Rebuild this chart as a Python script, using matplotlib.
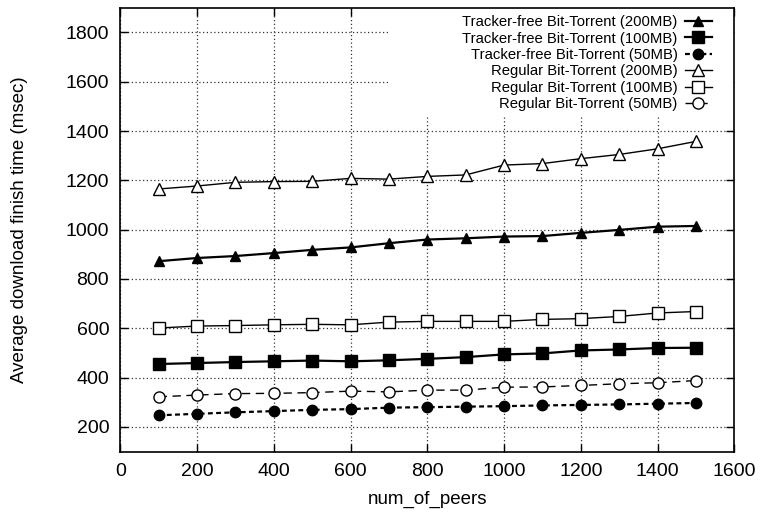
import matplotlib
matplotlib.use("Agg")
import matplotlib.pyplot as plt
from matplotlib.patches import Rectangle

peers = [100, 200, 300, 400, 500, 600, 700, 800, 900, 1000, 1100, 1200, 1300, 1400, 1500]

tf_200 = [872, 885, 893, 905, 918, 928, 945, 960, 965, 972, 974, 987, 999, 1012, 1015]
tf_100 = [455, 459, 463, 466, 469, 466, 470, 476, 483, 494, 498, 510, 514, 520, 521]
tf_50 = [247, 253, 259, 264, 269, 272, 278, 280, 282, 284, 287, 289, 291, 294, 297]
reg_200 = [1165, 1177, 1192, 1195, 1196, 1208, 1205, 1216, 1222, 1262, 1268, 1288, 1305, 1328, 1358]
reg_100 = [601, 609, 611, 614, 616, 614, 625, 628, 628, 628, 636, 639, 648, 662, 668]
reg_50 = [322, 329, 335, 336, 339, 345, 342, 349, 349, 361, 362, 368, 375, 379, 388]

labels = ["Tracker-free Bit-Torrent (200MB)", "Tracker-free Bit-Torrent (100MB)",
          "Tracker-free Bit-Torrent (50MB)", "Regular Bit-Torrent (200MB)",
          "Regular Bit-Torrent (100MB)", "Regular Bit-Torrent (50MB)"]
xticks = [0, 200, 400, 600, 800, 1000, 1200, 1400, 1600]
yticks = [200, 400, 600, 800, 1000, 1200, 1400, 1600, 1800]

plt.rcParams['font.family'] = ['Liberation Sans', 'DejaVu Sans']

fig = plt.figure(figsize=(7.61, 5.19), dpi=100)
ax = fig.add_axes([0.158, 0.130, 0.807, 0.855])

k = 'black'
ax.plot(peers, tf_200, color=k, lw=1.6, marker='^', ms=7, mfc=k, mec=k, label=labels[0], zorder=3)
ax.plot(peers, tf_100, color=k, lw=1.6, marker='s', ms=8.5, mfc=k, mec=k, label=labels[1], zorder=3)
ax.plot(peers, tf_50, color=k, lw=1.6, ls=(0, (2.2, 1.5)), marker='o', ms=7.5, mfc=k, mec=k, label=labels[2], zorder=3)
ax.plot(peers, reg_200, color=k, lw=1.0, marker='^', ms=8.5, mfc='white', mec=k, mew=1.0, label=labels[3], zorder=3)
ax.plot(peers, reg_100, color=k, lw=1.0, marker='s', ms=8.5, mfc='white', mec=k, mew=1.0, label=labels[4], zorder=3)
ax.plot(peers, reg_50, color=k, lw=1.0, ls=(0, (6, 4)), marker='o', ms=8, mfc='white', mec=k, mew=1.0, label=labels[5], zorder=3)

ax.set_xlim(0, 1600)
ax.set_ylim(100, 1900)
ax.set_xticks(xticks)
ax.set_yticks(yticks)
ax.tick_params(direction='in', length=6, width=1, labelsize=14, top=True, right=True, pad=8)
ax.grid(True, color='#333333', ls=(0, (1, 2)), lw=0.9)
ax.set_axisbelow(True)
for s in ax.spines.values():
    s.set_linewidth(1.2)

# blank area behind the key, as in the original
ax.add_patch(Rectangle((0.44, 0.755), 0.56, 0.245, transform=ax.transAxes,
                       facecolor='white', edgecolor='none', zorder=1.5))

ax.set_xlabel("num_of_peers", fontsize=13.5, labelpad=8)
ax.set_ylabel("Average download finish time (msec)", fontsize=13.5, labelpad=27)

leg = ax.legend(loc='upper right', bbox_to_anchor=(0.975, 1.0), fontsize=10.7,
                markerfirst=False, frameon=False,
                handlelength=1.8, handletextpad=0.5, labelspacing=0.16,
                borderaxespad=0.2, borderpad=0.3)
for t in leg.get_texts():
    t.set_ha('right')
leg._legend_box.align = "right"

fig.savefig("out.png", dpi=100)
